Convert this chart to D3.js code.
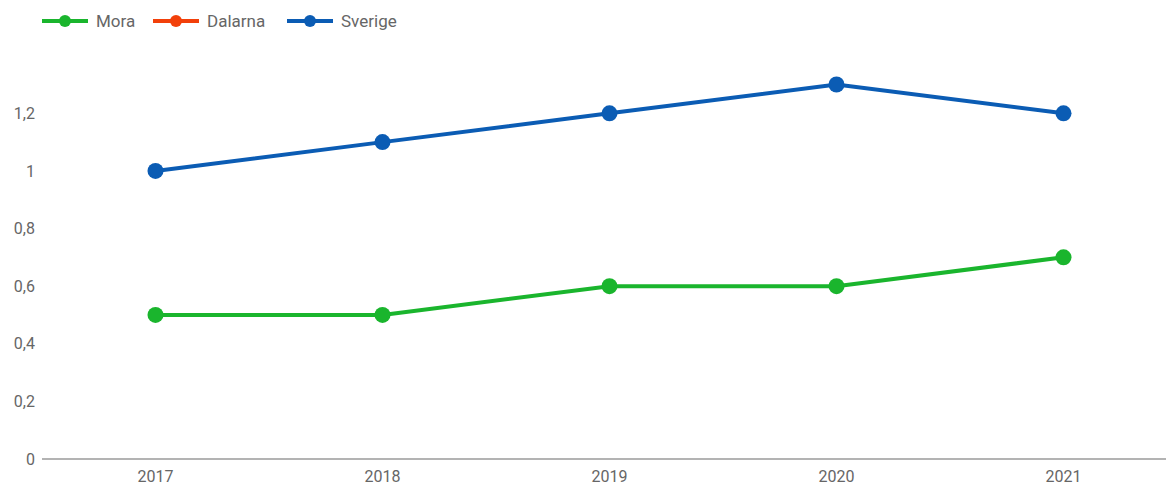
<meta charset="utf-8" />
<script src="https://d3js.org/d3.v7.min.js"></script>
<style>
  body { margin: 0; background: #fff; }
  text { font-family: Roboto, sans-serif; }
</style>
<div id="chart"></div>
<script>
  const years = ['2017', '2018', '2019', '2020', '2021'];
  const mora = [0.5, 0.5, 0.6, 0.6, 0.7];
  const dalarna = [null, null, null, null, null];
  const sverige = [1.0, 1.1, 1.2, 1.3, 1.2];
  const yTicks = [0, 0.2, 0.4, 0.6, 0.8, 1, 1.2];

  const series = [
    { name: 'Mora', values: mora, color: '#1ab52d' },
    { name: 'Dalarna', values: dalarna, color: '#f2400a' },
    { name: 'Sverige', values: sverige, color: '#0b5cb4' },
  ];

  const width = 1166,
    height = 486;

  const svg = d3
    .select('#chart')
    .append('svg')
    .attr('width', width)
    .attr('height', height);

  const x = d3.scalePoint().domain(years).range([42, 1177]).padding(0.5);
  const y = d3.scaleLinear().domain([0, 1.4]).range([459, 55.7]);

  // baseline
  svg
    .append('line')
    .attr('x1', 42)
    .attr('x2', width)
    .attr('y1', y(0))
    .attr('y2', y(0))
    .attr('stroke', '#b3b3b3')
    .attr('stroke-width', 2);

  // y labels
  svg
    .append('g')
    .selectAll('text')
    .data(yTicks)
    .join('text')
    .attr('x', 35)
    .attr('y', (d) => y(d))
    .attr('dy', '0.35em')
    .attr('text-anchor', 'end')
    .attr('fill', '#666')
    .style('font-size', '16px')
    .text((d) => String(d).replace('.', ','));

  // x labels
  svg
    .append('g')
    .selectAll('text')
    .data(years)
    .join('text')
    .attr('x', (d) => x(d))
    .attr('y', 476)
    .attr('dy', '0.35em')
    .attr('text-anchor', 'middle')
    .attr('fill', '#666')
    .style('font-size', '16px')
    .text((d) => d);

  const line = d3
    .line()
    .defined((d) => d != null)
    .x((d, i) => x(years[i]))
    .y((d) => y(d));

  series.forEach(function (s) {
    svg
      .append('path')
      .datum(s.values)
      .attr('d', line)
      .attr('fill', 'none')
      .attr('stroke', s.color)
      .attr('stroke-width', 4);

    svg
      .append('g')
      .selectAll('circle')
      .data(s.values.map((v, i) => ({ v: v, year: years[i] })).filter((d) => d.v != null))
      .join('circle')
      .attr('cx', (d) => x(d.year))
      .attr('cy', (d) => y(d.v))
      .attr('r', 8)
      .attr('fill', s.color);
  });

  // legend
  const legendX = [42, 153, 287];
  const legend = svg
    .append('g')
    .selectAll('g')
    .data(series)
    .join('g')
    .attr('transform', (d, i) => `translate(${legendX[i]},21)`);

  legend
    .append('line')
    .attr('x1', 0)
    .attr('x2', 46)
    .attr('stroke', (d) => d.color)
    .attr('stroke-width', 4);

  legend
    .append('circle')
    .attr('cx', 23)
    .attr('r', 6)
    .attr('fill', (d) => d.color);

  legend
    .append('text')
    .attr('x', 54)
    .attr('dy', '0.35em')
    .attr('fill', '#666')
    .style('font-size', '17px')
    .text((d) => d.name);
</script>
